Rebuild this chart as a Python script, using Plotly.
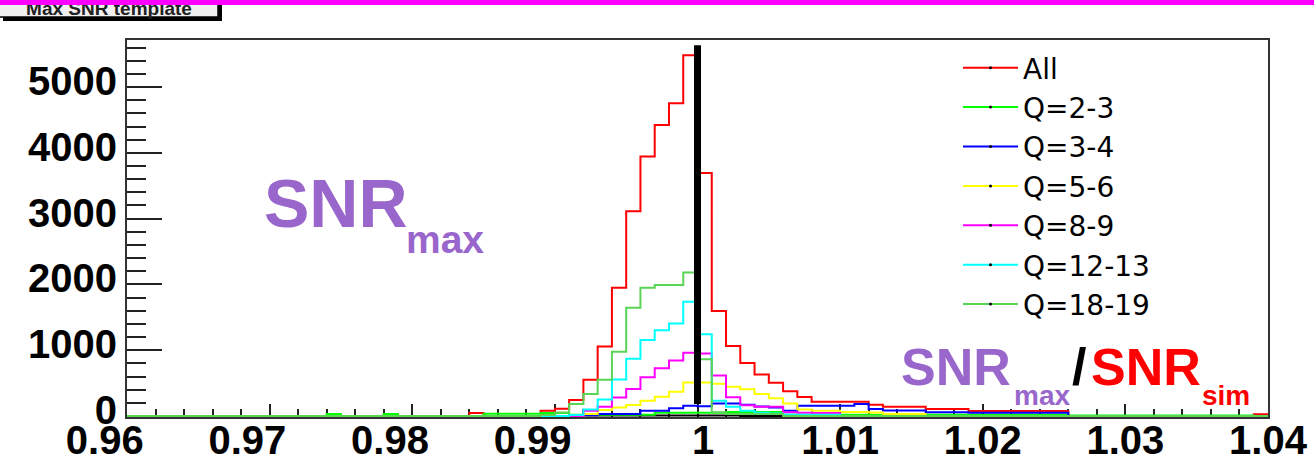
import plotly.graph_objects as go

W, H = 1314, 469

# ---- binning of the histograms (80 bins of 0.001 from 0.96 to 1.04) ----
BIN_LO = 0.96
BIN_W = 0.001
N_BINS = 80

# ---- bin contents (rows of 10 bins) ----
ALL = [
    0, 0, 0, 0, 0, 0, 0, 0, 0, 0,
    0, 0, 0, 0, 0, 0, 0, 0, 0, 0,
    0, 0, 0, 0, 45, 0, 0, 0, 0, 80,
    110, 245, 550, 1056, 1950, 3111, 3944, 4424, 4753, 5485,
    3692, 1596, 1066, 805, 630, 505, 377, 290, 217, 217,
    217, 217, 172, 140, 140, 140, 105, 105, 105, 78,
    78, 78, 78, 78, 78, 78, 0, 0, 0, 0,
    0, 0, 0, 0, 0, 0, 0, 0, 0, 25,
]
Q23 = [
    0, 0, 0, 0, 0, 0, 0, 0, 0, 0,
    0, 0, 0, 0, 30, 0, 0, 0, 30, 0,
    0, 0, 0, 0, 0, 35, 35, 35, 35, 45,
    45, 20, 20, 20, 20, 20, 20, 50, 50, 50,
    50, 50, 60, 60, 60, 60, 20, 20, 20, 20,
    20, 20, 20, 20, 20, 20, 20, 20, 20, 20,
    20, 20, 20, 20, 20, 20, 8, 8, 8, 8,
    8, 8, 8, 8, 8, 8, 8, 8, 8, 0,
]
Q34 = [
    0, 0, 0, 0, 0, 0, 0, 0, 0, 0,
    0, 0, 0, 0, 0, 0, 0, 0, 0, 0,
    0, 0, 0, 0, 0, 0, 0, 0, 0, 0,
    0, 10, 10, 30, 30, 30, 80, 80, 117, 157,
    150, 190, 192, 172, 146, 131, 81, 157, 157, 157,
    157, 182, 106, 85, 85, 85, 56, 56, 56, 48,
    48, 48, 48, 48, 48, 48, 0, 0, 0, 0,
    0, 0, 0, 0, 0, 0, 0, 0, 0, 0,
]
Q56 = [
    0, 0, 0, 0, 0, 0, 0, 0, 0, 0,
    0, 0, 0, 0, 0, 0, 0, 0, 0, 0,
    0, 0, 0, 0, 0, 0, 0, 0, 0, 0,
    0, 0, 30, 91, 131, 167, 232, 293, 369, 510,
    510, 490, 445, 405, 335, 270, 190, 100, 80, 80,
    60, 60, 55, 30, 30, 30, 0, 0, 0, 0,
    0, 0, 0, 0, 0, 0, 0, 0, 0, 0,
    0, 0, 0, 0, 0, 0, 0, 0, 0, 0,
]
Q89 = [
    0, 0, 0, 0, 0, 0, 0, 0, 0, 0,
    0, 0, 0, 0, 0, 0, 0, 0, 0, 0,
    0, 0, 0, 0, 0, 0, 0, 0, 0, 0,
    0, 0, 80, 140, 280, 409, 590, 725, 843, 960,
    950, 615, 285, 165, 140, 140, 56, 50, 45, 45,
    0, 0, 0, 0, 0, 0, 0, 0, 0, 0,
    0, 0, 0, 0, 0, 0, 0, 0, 0, 0,
    0, 0, 0, 0, 0, 0, 0, 0, 0, 0,
]
Q1213 = [
    0, 0, 0, 0, 0, 0, 0, 0, 0, 0,
    0, 0, 0, 0, 0, 0, 0, 0, 0, 0,
    0, 0, 0, 0, 0, 0, 0, 0, 0, 0,
    0, 15, 100, 252, 555, 870, 1155, 1305, 1405, 1737,
    1242, 232, 140, 80, 50, 40, 20, 20, 20, 20,
    0, 0, 0, 0, 0, 0, 0, 0, 0, 0,
    0, 0, 0, 0, 0, 0, 0, 0, 0, 0,
    0, 0, 0, 0, 0, 0, 0, 0, 0, 0,
]
Q1819 = [
    0, 0, 0, 0, 0, 0, 0, 0, 0, 0,
    0, 0, 0, 0, 0, 0, 0, 0, 0, 0,
    0, 0, 0, 0, 0, 0, 0, 0, 0, 15,
    55, 182, 333, 550, 975, 1646, 1950, 1990, 1990, 2180,
    864, 56, 30, 30, 30, 30, 0, 0, 0, 0,
    0, 0, 0, 0, 0, 0, 0, 0, 0, 0,
    0, 0, 0, 0, 0, 0, 0, 0, 0, 0,
    0, 0, 0, 0, 0, 0, 0, 0, 0, 0,
]
BLACK_H = [
    0, 0, 0, 0, 0, 0, 0, 0, 0, 0,
    0, 0, 0, 0, 0, 0, 0, 0, 0, 0,
    0, 0, 0, 0, 0, 0, 0, 0, 0, 0,
    0, 8, 8, 8, 8, 8, 8, 8, 8, 8,
    8, 8, 8, 0, 0, 0, 0, 0, 0, 0,
    0, 0, 0, 0, 0, 0, 0, 0, 0, 0,
    0, 0, 0, 0, 0, 0, 0, 0, 0, 0,
    0, 0, 0, 0, 0, 0, 0, 0, 0, 0,
]

SERIES_NAMES = ["All", "Q=2-3", "Q=3-4", "Q=5-6", "Q=8-9", "Q=12-13", "Q=18-19"]
SERIES_VALUES = [ALL, Q23, Q34, Q56, Q89, Q1213, Q1819]
SERIES_COLORS = ["#ff0000", "#00ff00", "#0000ff", "#ffff00", "#ff00ff", "#00ffff", "#59d454"]

# vertical marker line at SNRmax/SNRsim = 1
MARK_X = [1.0, 1.0]
MARK_Y = [182, 5636]

X_TICKS = [0.96, 0.97, 0.98, 0.99, 1.00, 1.01, 1.02, 1.03, 1.04]
NB = "\u00a0"
X_TICKTEXT = ["0.96" + NB * 4, "0.97" + NB * 4, "0.98" + NB * 4, "0.99" + NB * 4,
              NB + "1", "1.01", "1.02", "1.03", "1.04"]
Y_TICKS = [0, 1000, 2000, 3000, 4000, 5000]
Y_TICKTEXT = ["0", "1000", "2000", "3000", "4000", "5000"]

TITLE = "Max SNR template"
PURPLE = "#9966cc"

edges = [round(BIN_LO + k * BIN_W, 3) for k in range(N_BINS + 1)]


def px_x(X):
    return X / W


def px_y(Y):
    return 1 - Y / H


def step(vals):
    return list(vals) + [vals[-1]]


fig = go.Figure()

fig.add_trace(go.Scatter(x=edges, y=step(BLACK_H), mode="lines",
                         line=dict(color="black", width=2, shape="hv"),
                         showlegend=False, hoverinfo="skip"))
for name, vals, col in zip(SERIES_NAMES, SERIES_VALUES, SERIES_COLORS):
    fig.add_trace(go.Scatter(x=edges, y=step(vals), mode="lines", name=name,
                             line=dict(color=col, width=2, shape="hv"),
                             showlegend=False))
fig.add_trace(go.Scatter(x=MARK_X, y=MARK_Y, mode="lines",
                         line=dict(color="black", width=7), showlegend=False,
                         hoverinfo="skip"))
# legend entries (line with a small black marker as in ROOT "lp")
for name, col in zip(SERIES_NAMES, SERIES_COLORS):
    fig.add_trace(go.Scatter(x=[None], y=[None], mode="lines+markers", name=name,
                             line=dict(color=col, width=2),
                             marker=dict(color="black", size=3)))

# title box text (clipped by the magenta strip like the original)
fig.add_trace(go.Scatter(x=[109], y=[11.5], mode="text", text=[TITLE],
                         textposition="middle center",
                         textfont=dict(family="Liberation Sans", size=19, color="#222222",
                                       weight="bold"),
                         xaxis="x2", yaxis="y2", cliponaxis=True, showlegend=False,
                         hoverinfo="skip"))

axis_font = dict(family="Liberation Sans", size=40, color="black", weight="bold")

fig.update_layout(
    width=W, height=H,
    margin=dict(l=0, r=0, t=0, b=0, pad=0),
    paper_bgcolor="white",
    plot_bgcolor="rgba(0,0,0,0)",
    xaxis=dict(domain=[px_x(127), px_x(1268)], range=[0.96, 1.04],
               tickmode="array", tickvals=X_TICKS, ticktext=X_TICKTEXT,
               ticks="inside", ticklen=13, tickwidth=2, tickcolor="#222222",
               minor=dict(dtick=0.002, tick0=0.96, ticks="inside", ticklen=8,
                          tickwidth=1.5, tickcolor="#222222"),
               showline=True, linecolor="#333333", linewidth=2, mirror=True,
               showgrid=False, zeroline=False, tickfont=axis_font,
               ticklabelstandoff=-13,
               layer="below traces", anchor="y", automargin=False, fixedrange=True),
    yaxis=dict(domain=[1 - 417 / H, 1 - 40 / H], range=[-15, 5715],
               tickmode="array", tickvals=Y_TICKS, ticktext=Y_TICKTEXT,
               ticks="inside", ticklen=35, tickwidth=2, tickcolor="#222222",
               minor=dict(dtick=200, tick0=0, ticks="inside", ticklen=19,
                          tickwidth=1.5, tickcolor="#222222"),
               showline=True, linecolor="#333333", linewidth=2, mirror=True,
               showgrid=False, zeroline=False, tickfont=axis_font,
               ticklabelshift=-6,
               layer="below traces", anchor="x", automargin=False, fixedrange=True),
    xaxis2=dict(domain=[0, px_x(218)], range=[0, 218], visible=False,
                anchor="y2", fixedrange=True),
    yaxis2=dict(domain=[1 - 22 / H, 1 - 5 / H], range=[0, 17], visible=False,
                anchor="x2", fixedrange=True),
    legend=dict(x=px_x(958), y=px_y(43), xanchor="left", yanchor="top",
                bgcolor="rgba(0,0,0,0)", borderwidth=0, itemwidth=55,
                font=dict(family="DejaVu Sans", size=28, color="black"),
                tracegroupgap=0),
    showlegend=True,
)

shapes = [
    dict(type="rect", xref="paper", yref="paper", x0=px_x(3), x1=px_x(222),
         y0=px_y(21), y1=px_y(3), fillcolor="black", line=dict(width=0), layer="below"),
    dict(type="rect", xref="paper", yref="paper", x0=px_x(-2), x1=px_x(218),
         y0=px_y(17), y1=px_y(-2), fillcolor="#f0f0f0",
         line=dict(color="black", width=1.5), layer="below"),
    dict(type="rect", xref="paper", yref="paper", x0=0, x1=1,
         y0=px_y(5), y1=1, fillcolor="#ff00ff", line=dict(width=0), layer="above"),
]
fig.update_layout(shapes=shapes)


def label(text, left, baseline, size, color):
    return dict(text=text, x=px_x(left - 3), y=px_y(baseline - 0.35 * size),
                xref="paper", yref="paper", xanchor="left", yanchor="middle",
                showarrow=False,
                font=dict(family="Liberation Sans", size=size, color=color, weight="bold"))


fig.update_layout(annotations=[
    label("SNR", 265, 227, 68, PURPLE),
    label("max", 407, 253, 39, PURPLE),
    label("SNR", 902, 385, 52, PURPLE),
    label("max", 1015, 405, 28, PURPLE),
    label("/", 1073, 385, 52, "black"),
    label("SNR", 1092, 385, 52, "#ff0000"),
    label("sim", 1203, 405, 28, "#ff0000"),
])

# the page is photographed at 1314x469: drop the browser's default body margin
fig.write_html("out.html",
               config={"displayModeBar": False},
               post_script="document.body.style.margin='0';document.body.style.overflow='hidden';")
